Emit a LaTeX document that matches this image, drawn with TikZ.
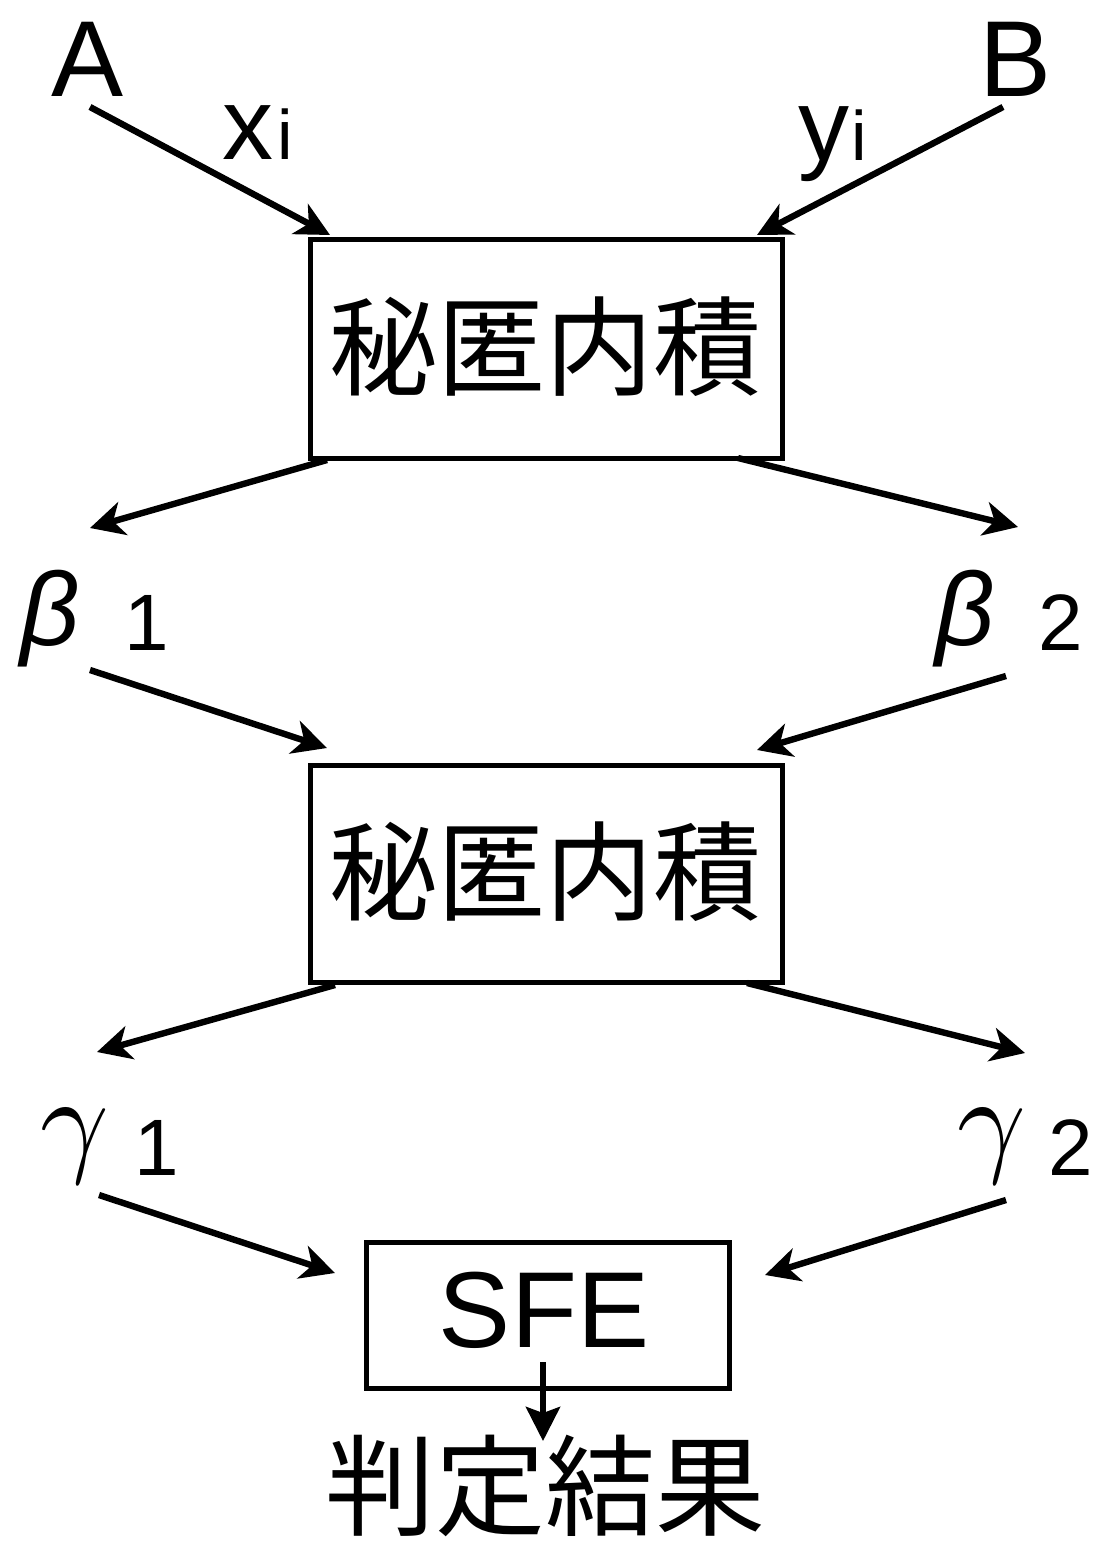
\documentclass[tikz,border=0pt]{standalone}
\usepackage{fontspec}
\setmainfont{Liberation Sans}
\newfontfamily\jp{Noto Sans CJK JP}
\usetikzlibrary{arrows.meta}
\begin{document}
\begin{tikzpicture}[x=0.5pt,y=-0.5pt,
  box/.style={draw,line width=2.4pt,inner sep=0pt,anchor=north west},
  arr/.style={line width=3.2pt,-{Stealth[length=17pt,width=17pt,inset=5pt]}},
  jptext/.style={font=\jp\fontsize{54}{54}\selectfont,inner sep=0pt},
  lab/.style={inner sep=0pt}]
\useasboundingbox (0,0) rectangle (1094,1541);
% boxes
\node[box,minimum width=236pt,minimum height=109.5pt] (box1) at (308,237) {};
\node[box,minimum width=236pt,minimum height=108.5pt] (box2) at (308,763) {};
\node[box,minimum width=181.5pt,minimum height=73pt] (box3) at (364,1240) {};
\node[jptext] (t1) at (545,347) {秘匿内積};
\node[jptext] (t2) at (545,872) {秘匿内積};
\node[lab,font=\fontsize{54}{54}\selectfont] (sfe) at (544,1310) {SFE};
\node[jptext,font=\jp\fontsize{55}{55}\selectfont] (res) at (545,1486) {判定結果};
% labels
\node[lab,anchor=base,font=\fontsize{54}{54}\selectfont] (A) at (88,97) {A};
\node[lab,anchor=base,font=\fontsize{54}{54}\selectfont] (B) at (1016,97) {B};
\node[lab,anchor=base west] (xi) at (222,159) {\fontsize{51}{51}\selectfont x\hspace{2pt}\fontsize{35}{35}\selectfont i};
\node[lab,anchor=base west] (yi) at (798,161) {\fontsize{51}{51}\selectfont y\hspace{1pt}\fontsize{35}{35}\selectfont i};
\node[lab,anchor=base west,font=\fontsize{52}{52}\selectfont] (b1) at (20,645) {\textit{β}};
\node[lab,anchor=base west,font=\fontsize{40}{40}\selectfont] (b1n) at (124,650) {1};
\node[lab,anchor=base west,font=\fontsize{52}{52}\selectfont] (b2) at (935,645) {\textit{β}};
\node[lab,anchor=base west,font=\fontsize{40}{40}\selectfont] (b2n) at (1038,650) {2};
\node[lab,anchor=base west] (g1) at (40,1160) {\scalebox{6}{$\gamma$}};
\node[lab,anchor=base west,font=\fontsize{40}{40}\selectfont] (g1n) at (134,1175) {1};
\node[lab,anchor=base west] (g2) at (957,1160) {\scalebox{6}{$\gamma$}};
\node[lab,anchor=base west,font=\fontsize{40}{40}\selectfont] (g2n) at (1048,1175) {2};
% connector ends
\coordinate (a0) at (90,107);   \coordinate (a1) at (330,235);
\coordinate (bb0) at (1003,107); \coordinate (bb1) at (757,235);
\coordinate (c0) at (327,460);  \coordinate (c1) at (90,528);
\coordinate (d0) at (738,458);  \coordinate (d1) at (1018,527);
\coordinate (e0) at (90,670);   \coordinate (e1) at (327,748);
\coordinate (f0) at (1006,676); \coordinate (f1) at (757,750);
\coordinate (g0) at (335,985);  \coordinate (gg1) at (97,1052);
\coordinate (h0) at (747,983);  \coordinate (h1) at (1025,1053);
\coordinate (i0) at (99,1195);  \coordinate (i1) at (335,1273);
\coordinate (j0) at (1006,1200); \coordinate (j1) at (765,1275);
\coordinate (k0) at (543,1362); \coordinate (k1) at (543,1441);
\draw[arr] (a0) -- (a1);
\draw[arr] (bb0) -- (bb1);
\draw[arr] (c0) -- (c1);
\draw[arr] (d0) -- (d1);
\draw[arr] (e0) -- (e1);
\draw[arr] (f0) -- (f1);
\draw[arr] (g0) -- (gg1);
\draw[arr] (h0) -- (h1);
\draw[arr] (i0) -- (i1);
\draw[arr] (j0) -- (j1);
\draw[line width=3pt,-{Stealth[length=17pt,width=17pt,inset=3pt]}] (k0) -- (k1);
\end{tikzpicture}
\end{document}
